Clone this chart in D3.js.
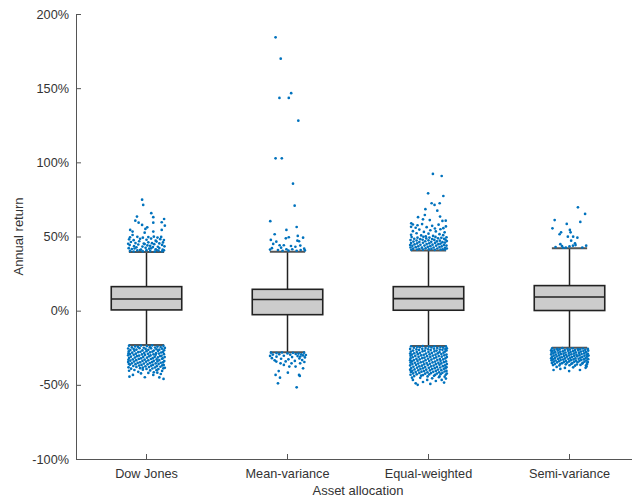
<!DOCTYPE html>
<html>
<head>
<meta charset="utf-8">
<script src="https://cdn.jsdelivr.net/npm/d3@7"></script>
<style>
body { margin: 0; background: #fff; }
text { font-family: "Liberation Sans", Arial, Helvetica, sans-serif; }
</style>
</head>
<body>
<svg id="chart" width="632" height="498"></svg>
<script>
// box statistics, annual return in %
var categories = ["Dow Jones", "Mean-variance", "Equal-weighted", "Semi-variance"];
var whiskerLow  = [-23.1, -28.0, -23.8, -25.0];
var q1          = [0.5, -2.7, 0.3, 0.1];
var medians     = [7.9, 7.5, 8.1, 9.2];
var q3          = [16.2, 14.4, 16.2, 16.9];
var whiskerHigh = [39.6, 39.8, 40.6, 42.1];
var yTicks = [-100, -50, 0, 50, 100, 150, 200];

// outliers as [jitter (-1..1), return %]
var outDow = [
  [-0.24,74.8],[-0.18,71.3],[0.26,65.7],[0.37,63.0],[-0.52,63.4],[0.96,61.8],[-0.61,60.7],[-0.43,59.3],[0.37,59.3],[-0.24,57.8],
  [0.04,56.2],[1.0,57.3],[0.83,59.6],[0.83,54.4],[-0.06,55.1],[-0.89,54.4],[-0.76,53.3],[0.37,53.3],[-0.1,52.6],[-0.76,51.0],
  [-0.9,49.5],[-0.5,49.8],[-0.2,49.2],[0.1,49.6],[0.4,49.9],[0.6,49.3],[0.8,49.7],
  [-0.95,48.1],[-0.7,47.5],[-0.35,48.4],[0,47.8],[0.25,48.6],[0.5,47.2],[0.75,48.2],[0.95,47.6],
  [-0.85,46.3],[-0.6,45.6],[-0.4,46.8],[-0.15,45.2],[0.1,46.1],[0.3,45.5],[0.55,46.6],[0.7,45.3],[0.9,46.0],[-1.0,45.1],
  [-0.92,44.2],[-0.68,43.5],[-0.45,44.6],[-0.22,43.2],[0.05,44.0],[0.2,43.7],[0.42,44.8],[0.62,43.1],[0.85,44.3],[-0.1,44.9],[0.98,43.4],
  [-0.97,42.1],[-0.8,41.5],[-0.55,42.7],[-0.3,41.2],[-0.05,42.4],[0.15,41.8],[0.35,42.9],[0.5,41.4],[0.7,42.2],[0.88,41.1],[-0.65,41.9],[0.25,42.0],
  [-0.9,40.3],[-0.7,39.9],[-0.5,40.6],[-0.2,40.0],[0,40.8],[0.2,40.2],[0.45,39.8],[0.65,40.5],[0.85,40.0],[0.95,40.7],[-0.35,40.9],[0.55,40.9],
  [-0.95,-23.6],[-0.62,-24.1],[-0.3,-23.5],[0.02,-23.9],[0.31,-23.4],[0.6,-24.2],[0.92,-23.7],
  [-0.8,-24.8],[-0.47,-24.4],[-0.15,-25.0],[0.18,-24.6],[0.47,-24.9],[0.77,-24.5],[1.0,-25.1],
  [-1.0,-25.5],[-0.7,-25.9],[-0.38,-25.3],[-0.05,-25.8],[0.25,-25.4],[0.55,-26.0],[0.85,-25.6],
  [-0.88,-26.6],[-0.55,-26.2],[-0.22,-26.8],[0.1,-26.4],[0.4,-26.9],[0.7,-26.3],[0.96,-26.7],
  [-0.97,-27.5],[-0.66,-27.1],[-0.33,-27.7],[0,-27.3],[0.33,-27.6],[0.63,-27.2],[0.9,-27.8],
  [-0.78,-28.3],[-0.45,-28.0],[-0.12,-28.5],[0.2,-28.1],[0.52,-28.6],[0.8,-28.2],[-0.98,-28.7],
  [-0.9,-29.2],[-0.58,-29.0],[-0.25,-29.5],[0.08,-29.1],[0.38,-29.4],[0.68,-28.9],[0.95,-29.3],
  [-1.0,-30.1],[-0.7,-29.8],[-0.4,-30.3],[-0.08,-29.9],[0.22,-30.2],[0.5,-29.7],[0.82,-30.4],
  [-0.85,-31.0],[-0.52,-30.7],[-0.18,-31.2],[0.14,-30.8],[0.45,-31.1],[0.74,-30.6],[0.99,-31.3],
  [-0.95,-31.9],[-0.63,-31.6],[-0.3,-32.1],[0.03,-31.7],[0.34,-32.0],[0.62,-31.5],[0.88,-32.2],
  [-0.75,-32.8],[-0.42,-32.5],[-0.1,-33.0],[0.24,-32.6],[0.55,-32.9],[0.85,-32.4],[-0.99,-33.1],
  [-0.88,-33.7],[-0.56,-33.4],[-0.22,-33.9],[0.1,-33.5],[0.4,-33.8],[0.7,-33.3],[0.97,-34.0],
  [-1.0,-34.6],[-0.68,-34.3],[-0.35,-34.8],[-0.02,-34.4],[0.3,-34.7],[0.6,-34.2],[0.9,-34.9],
  [-0.8,-35.5],[-0.48,-35.2],[-0.14,-35.7],[0.18,-35.3],[0.5,-35.6],[0.78,-35.1],[-0.96,-35.9],
  [-0.9,-36.4],[-0.6,-36.1],[-0.27,-36.6],[0.06,-36.2],[0.36,-36.5],[0.66,-36.0],[0.94,-36.7],
  [-0.72,-37.3],[-0.4,-37.0],[-0.06,-37.5],[0.26,-37.1],[0.56,-37.4],[0.86,-36.9],
  [-0.98,-38.2],[-0.55,-37.9],[-0.2,-38.4],[0.14,-38.0],[0.46,-38.3],[0.76,-37.8],[1.0,-38.5],
  [-0.84,-39.1],[-0.35,-38.8],[0.0,-39.3],[0.32,-39.0],[0.65,-39.4],[0.92,-38.9],
  [-0.66,-40.0],[-0.2,-39.8],[0.2,-40.3],[0.55,-40.1],[-0.95,-40.5],[0.85,-40.6],
  [-0.45,-41.2],[0.4,-41.5],[0.59,-41.8],[-0.93,-44.5],[-0.74,-43.3],[-0.09,-44.9],[0.37,-43.3],[0.93,-46.0],[0.78,-42.7],[-0.3,-42.3],[0.1,-42.0],[0.7,-45.0]
];

var outMeanVar = [
  [-0.65,184.3],[-0.37,169.9],[-0.44,143.4],[0.07,143.4],[0.2,146.6],[0.59,128.1],[-0.65,102.7],[-0.31,102.7],[0.3,85.6],[0.39,70.8],
  [-0.94,60.3],[0.5,56.4],[-0.06,54.4],[-0.7,51.5],[0.56,50.4],[0.07,49.5],[0.85,49.2],[-0.09,48.8],[-0.91,47.7],[-0.61,46.5],
  [0.54,47.2],[0.63,46.8],[-0.78,45.0],[-0.43,44.1],[-0.2,44.1],[0.19,43.6],[0.43,43.1],[-0.85,42.1],[-0.35,42.5],[-0.06,41.4],
  [0.26,41.4],[0.91,41.8],[-0.52,40.9],[0.5,40.4],[-0.27,40.4],[0.72,40.9],[0.95,40.6],[-0.95,41.2],[0.05,40.5],[0.7,43.9],
  [-0.9,-28.3],[-0.6,-28.6],[-0.3,-28.2],[0.0,-28.8],[0.3,-28.4],[0.6,-28.9],[0.9,-28.3],[0.75,-29.5],[-0.8,-29.6],[-0.45,-29.3],
  [0.15,-29.7],[0.45,-29.2],[1.0,-29.9],[-0.95,-30.5],[-0.2,-30.4],[0.55,-30.6],[0.85,-30.2],[-0.6,-31.0],[0.25,-31.3],[0.95,-31.5],
  [-0.85,-32.0],[-0.35,-32.4],[0.65,-32.2],[0.05,-32.8],[-0.7,-33.5],[0.8,-33.3],[0.4,-33.9],[-0.1,-34.2],[0.92,-34.6],[0.7,-30.9],
  [-0.48,-40.7],[-0.65,-43.3],[-0.41,-45.2],[-0.52,-49.0],[0.5,-51.7],[0.02,-41.8],[0.63,-43.3],[0.67,-44.0],[0.85,-38.9],[0.44,-37.7],
  [0.1,-37.7],[-0.2,-36.6],[-0.38,-35.5],[0.22,-35.5],[-0.61,-34.3],[0.69,-35.5]
];

var outEqual = [
  [0.24,92.2],[0.72,90.8],[-0.02,79.1],[0.81,77.3],[0.17,72.4],[0.33,71.3],[0.61,72.4],[-0.17,68.4],[0.48,67.4],[-0.57,63.0],
  [-0.3,61.6],[-0.2,64.5],[0.07,61.1],[0.63,63.4],[0.76,60.5],[0.94,60.7],[-0.94,58.9],[0.81,55.6],
  [-0.85,58.1],[-0.6,57.6],[-0.35,58.4],[0.2,57.2],[0.55,58.0],[-0.95,56.5],[-0.7,55.9],[-0.1,56.3],[0.35,55.4],[0.95,56.8],
  [-0.5,54.7],[0.1,54.2],[0.65,54.9],[-0.85,53.6],[-0.25,53.1],[0.4,53.4],[0.88,52.8],[-0.65,52.2],[0.0,51.9],[0.6,51.6],
  [-0.95,51.1],[-0.4,50.7],[0.25,50.4],[0.8,50.9],[-0.15,50.1],
  [-0.92,49.6],[-0.6,49.2],[-0.28,49.8],[0.05,49.3],[0.38,49.7],[0.7,49.1],[0.98,49.5],
  [-0.78,48.5],[-0.45,48.2],[-0.12,48.7],[0.2,48.3],[0.52,48.8],[0.85,48.4],
  [-0.98,47.6],[-0.65,47.3],[-0.32,47.8],[0.0,47.4],[0.32,47.7],[0.62,47.2],[0.92,47.9],
  [-0.82,46.6],[-0.5,46.3],[-0.18,46.8],[0.15,46.4],[0.46,46.7],[0.76,46.2],[1.0,46.9],
  [-0.95,45.6],[-0.62,45.3],[-0.3,45.8],[0.04,45.4],[0.36,45.7],[0.66,45.2],[0.9,45.9],
  [-0.76,44.7],[-0.44,44.4],[-0.1,44.9],[0.22,44.5],[0.54,44.8],[0.84,44.3],[-1.0,44.2],
  [-0.88,43.7],[-0.56,43.4],[-0.22,43.9],[0.1,43.5],[0.42,43.8],[0.72,43.3],[0.98,43.9],
  [-0.7,42.8],[-0.36,42.5],[-0.04,43.0],[0.28,42.6],[0.6,42.9],[0.9,42.4],[-0.98,42.6],
  [-0.84,41.8],[-0.5,41.5],[-0.16,42.0],[0.16,41.6],[0.48,41.9],[0.78,41.4],[1.0,41.9],
  [-0.94,41.0],[-0.62,41.2],[-0.3,41.1],[0.02,41.3],[0.34,41.0],[0.66,41.1],[0.9,41.2],
  [-0.95,-24.0],[-0.63,-24.4],[-0.31,-23.9],[0.01,-24.3],[0.33,-24.0],[0.65,-24.5],[0.95,-24.1],
  [-0.8,-25.0],[-0.48,-24.7],[-0.16,-25.2],[0.16,-24.8],[0.48,-25.1],[0.8,-24.9],[1.0,-25.4],
  [-1.0,-25.8],[-0.66,-26.1],[-0.34,-25.7],[-0.02,-26.0],[0.3,-25.6],[0.62,-26.2],[0.92,-25.9],
  [-0.84,-26.9],[-0.52,-26.5],[-0.2,-27.0],[0.12,-26.6],[0.44,-26.9],[0.76,-26.4],[0.98,-26.8],
  [-0.96,-27.6],[-0.64,-27.9],[-0.32,-27.4],[0.0,-27.8],[0.32,-27.5],[0.6,-28.0],[0.9,-27.6],
  [-0.78,-28.7],[-0.46,-28.4],[-0.14,-28.9],[0.18,-28.5],[0.5,-28.8],[0.82,-28.3],[-1.0,-28.9],
  [-0.9,-29.6],[-0.58,-29.3],[-0.26,-29.8],[0.06,-29.4],[0.38,-29.7],[0.7,-29.2],[0.98,-29.6],
  [-0.72,-30.5],[-0.4,-30.2],[-0.08,-30.7],[0.24,-30.3],[0.56,-30.6],[0.86,-30.1],[-0.98,-30.4],
  [-0.86,-31.4],[-0.54,-31.1],[-0.22,-31.6],[0.1,-31.2],[0.42,-31.5],[0.72,-31.0],[1.0,-31.3],
  [-0.98,-32.2],[-0.66,-32.5],[-0.34,-32.0],[-0.02,-32.4],[0.3,-32.1],[0.62,-32.6],[0.92,-32.2],
  [-0.8,-33.3],[-0.48,-32.9],[-0.16,-33.4],[0.16,-33.0],[0.48,-33.3],[0.8,-32.9],[-1.0,-33.5],
  [-0.9,-34.2],[-0.6,-33.9],[-0.28,-34.4],[0.04,-34.0],[0.36,-34.3],[0.66,-33.8],[0.96,-34.2],
  [-0.74,-35.1],[-0.42,-34.8],[-0.1,-35.3],[0.22,-34.9],[0.54,-35.2],[0.84,-34.7],[-0.98,-35.0],
  [-0.88,-36.0],[-0.56,-35.7],[-0.24,-36.2],[0.08,-35.8],[0.4,-36.1],[0.7,-35.6],[1.0,-36.0],
  [-1.0,-36.9],[-0.68,-36.6],[-0.36,-37.1],[-0.04,-36.7],[0.28,-37.0],[0.6,-36.5],[0.9,-36.9],
  [-0.82,-37.8],[-0.5,-37.5],[-0.18,-38.0],[0.14,-37.6],[0.46,-37.9],[0.78,-37.4],[0.98,-38.1],
  [-0.94,-38.7],[-0.62,-38.4],[-0.3,-38.9],[0.02,-38.5],[0.34,-38.8],[0.64,-38.3],[0.92,-38.8],
  [-0.76,-39.6],[-0.44,-39.3],[-0.12,-39.8],[0.2,-39.4],[0.52,-39.7],[0.84,-39.2],[-1.0,-39.8],
  [-0.88,-40.5],[-0.56,-40.2],[-0.24,-40.7],[0.08,-40.3],[0.4,-40.6],[0.7,-40.1],[0.98,-40.6],
  [-0.7,-41.4],[-0.38,-41.1],[-0.06,-41.6],[0.26,-41.2],[0.58,-41.5],[0.88,-41.0],[-0.96,-41.3],
  [-0.84,-42.3],[-0.5,-42.0],[-0.18,-42.5],[0.14,-42.1],[0.46,-42.4],[0.76,-41.9],[1.0,-42.4],
  [-0.98,-43.2],[-0.64,-42.9],[-0.3,-43.4],[0.04,-43.0],[0.36,-43.3],[0.66,-42.8],[0.94,-43.2],
  [-0.78,-44.1],[-0.4,-43.8],[-0.05,-44.3],[0.3,-43.9],[0.6,-44.2],[0.88,-44.5],
  [-0.59,-50.0],[-0.07,-46.7],[0.72,-46.7],[0.85,-48.5],[0.57,-44.9],[-0.85,-46.7],[-0.45,-45.3],[0.2,-45.6],[-0.9,-45.2],[0.4,-47.4],
  [-0.3,-48.1],[0.95,-45.8],[-0.7,-49.0],[0.1,-49.4]
];

var outSemi = [
  [0.46,69.7],[0.85,65.2],[-0.81,61.1],[0.59,59.8],[-0.15,58.5],[-0.93,55.5],[0.02,54.4],[-0.46,52.8],[-0.54,51.5],[0.06,52.8],
  [-0.09,49.9],[0.2,49.9],[0.43,49.2],[0.09,47.2],[0.3,45.4],[0.19,43.8],[-0.5,44.8],[-0.41,43.6],[-0.76,42.9],[-0.35,42.4],
  [0.0,43.3],[0.91,43.8],[0.33,44.2],[0.7,42.6],[-0.2,42.5],
  [-0.95,-25.4],[-0.67,-25.8],[-0.39,-25.3],[-0.11,-25.7],[0.17,-25.4],[0.45,-25.9],[0.73,-25.5],[1.0,-25.8],
  [-0.82,-26.4],[-0.54,-26.1],[-0.26,-26.6],[0.02,-26.2],[0.3,-26.5],[0.58,-26.0],[0.86,-26.4],[-1.0,-26.7],
  [-0.92,-27.2],[-0.64,-26.9],[-0.36,-27.4],[-0.08,-27.0],[0.2,-27.3],[0.48,-26.8],[0.76,-27.2],[1.02,-27.0],
  [-0.78,-28.0],[-0.5,-27.7],[-0.22,-28.2],[0.06,-27.8],[0.34,-28.1],[0.62,-27.6],[0.9,-28.0],[-0.98,-27.9],
  [-0.88,-28.8],[-0.6,-28.5],[-0.32,-29.0],[-0.04,-28.6],[0.24,-28.9],[0.52,-28.4],[0.8,-28.8],[1.0,-29.1],
  [-0.74,-29.6],[-0.46,-29.3],[-0.18,-29.8],[0.1,-29.4],[0.38,-29.7],[0.66,-29.2],[0.94,-29.6],[-1.0,-29.5],
  [-0.86,-30.4],[-0.58,-30.1],[-0.3,-30.6],[-0.02,-30.2],[0.26,-30.5],[0.54,-30.0],[0.82,-30.4],[1.04,-30.3],
  [-0.96,-31.2],[-0.7,-30.9],[-0.42,-31.4],[-0.14,-31.0],[0.14,-31.3],[0.42,-30.8],[0.7,-31.2],[0.96,-31.0],
  [-0.8,-32.0],[-0.52,-31.7],[-0.24,-32.2],[0.04,-31.8],[0.32,-32.1],[0.6,-31.6],[0.88,-32.0],[-1.0,-32.1],
  [-0.9,-32.8],[-0.62,-32.5],[-0.34,-33.0],[-0.06,-32.6],[0.22,-32.9],[0.5,-32.4],[0.78,-32.8],[1.02,-32.7],
  [-0.76,-33.6],[-0.48,-33.3],[-0.2,-33.8],[0.08,-33.4],[0.36,-33.7],[0.64,-33.2],[0.92,-33.6],[-0.98,-33.5],
  [-0.86,-34.4],[-0.58,-34.1],[-0.3,-34.6],[-0.02,-34.2],[0.26,-34.5],[0.54,-34.0],[0.82,-34.4],[1.0,-34.6],
  [-0.96,-35.2],[-0.68,-34.9],[-0.4,-35.4],[-0.12,-35.0],[0.16,-35.3],[0.44,-34.8],[0.72,-35.2],[0.98,-35.0],
  [-0.8,-36.0],[-0.5,-35.8],[-0.2,-36.2],[0.1,-35.9],[0.4,-36.3],[0.7,-35.7],[0.95,-36.1],
  [-0.9,-36.7],[-0.55,-36.9],[0.0,-36.8],[0.3,-37.1],[0.6,-36.6],[0.9,-37.0],
  [-0.87,-40.0],[-0.5,-39.3],[-0.02,-40.7],[0.57,-40.0],[0.93,-37.7],[0.88,-38.5],[-0.7,-37.9],[0.2,-38.2],[-0.25,-38.6]
];

var outliers = [outDow, outMeanVar, outEqual, outSemi];

var svg = d3.select("#chart");

var x = d3.scaleBand()
    .domain(categories)
    .range([76, 640]);

var y = d3.scaleLinear()
    .domain([-100, 200])
    .range([459, 14]);

var bw = x.bandwidth();
var boxW = bw * 0.5, capW = bw * 0.25, jitterW = bw * 0.13;

// axes, ticks pointing inward
var yAxis = svg.append("g")
    .attr("transform", "translate(76,0)")
    .call(d3.axisLeft(y).tickValues(yTicks).tickFormat(function (d) { return d + "%"; })
        .tickSizeInner(-5).tickSizeOuter(0).tickPadding(7));

var xAxis = svg.append("g")
    .attr("transform", "translate(0,459)")
    .call(d3.axisBottom(x).tickSizeInner(-5).tickSizeOuter(0).tickPadding(9.5));

svg.selectAll(".tick text").attr("fill", "#333").style("font-size", "12.7px");
svg.selectAll(".domain, .tick line").attr("stroke", "#555");

svg.append("text")
    .attr("x", 358)
    .attr("y", 495)
    .attr("text-anchor", "middle")
    .attr("fill", "#333")
    .style("font-size", "13px")
    .text("Asset allocation");

svg.append("text")
    .attr("transform", "translate(23,236.5) rotate(-90)")
    .attr("text-anchor", "middle")
    .attr("fill", "#333")
    .style("font-size", "13px")
    .text("Annual return");

// boxes
categories.forEach(function (c, i) {
    var cx = x(c) + bw / 2;
    var g = svg.append("g");

    g.append("line")
        .attr("x1", cx).attr("x2", cx)
        .attr("y1", y(whiskerHigh[i])).attr("y2", y(whiskerLow[i]))
        .attr("stroke", "#222").attr("stroke-width", 1.5);

    [whiskerHigh[i], whiskerLow[i]].forEach(function (w) {
        g.append("line")
            .attr("x1", cx - capW / 2).attr("x2", cx + capW / 2)
            .attr("y1", y(w)).attr("y2", y(w))
            .attr("stroke", "#555").attr("stroke-width", 2);
    });

    g.append("rect")
        .attr("x", cx - boxW / 2)
        .attr("y", y(q3[i]))
        .attr("width", boxW)
        .attr("height", y(q1[i]) - y(q3[i]))
        .attr("fill", "#cccccc")
        .attr("stroke", "#222")
        .attr("stroke-width", 1.6);

    g.append("line")
        .attr("x1", cx - boxW / 2).attr("x2", cx + boxW / 2)
        .attr("y1", y(medians[i])).attr("y2", y(medians[i]))
        .attr("stroke", "#222").attr("stroke-width", 1.6);

    g.selectAll("circle")
        .data(outliers[i])
        .enter().append("circle")
        .attr("cx", function (d) { return cx + d[0] * jitterW; })
        .attr("cy", function (d) { return y(d[1]); })
        .attr("r", 1.35)
        .attr("fill", "#0072BD");
});
</script>
</body>
</html>
